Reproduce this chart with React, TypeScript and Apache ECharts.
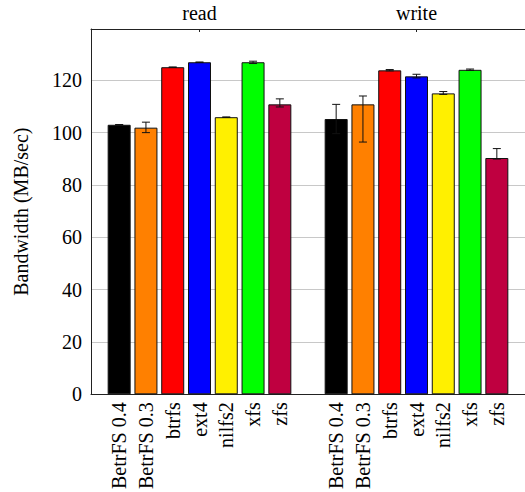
import React, { useEffect, useRef } from "react";
import * as echarts from "echarts";

const groups = ["read", "write"];
const systems = ["BetrFS 0.4", "BetrFS 0.3", "btrfs", "ext4", "nilfs2", "xfs", "zfs"];
const colors = ["#000000", "#ff8000", "#ff0000", "#0000ff", "#fff000", "#00ff00", "#bf0040"];
const readValues = [103.0, 101.9, 125.0, 126.9, 105.9, 126.9, 110.8];
const readLow = [102.9, 100.0, 124.9, 126.8, 105.8, 126.4, 109.8];
const readHigh = [103.1, 104.0, 125.1, 127.0, 106.0, 127.3, 112.9];
const writeValues = [105.2, 110.8, 123.8, 121.5, 115.0, 124.0, 90.3];
const writeLow = [99.6, 96.4, 123.6, 120.9, 114.6, 123.8, 89.9];
const writeHigh = [110.8, 114.0, 124.1, 122.3, 115.7, 124.3, 93.9];
const yTicks = [0, 20, 40, 60, 80, 100, 120];

const FONT = "'Liberation Serif', 'Times New Roman', serif";
const STEP = 0.1234;

export default function App() {
  const ref = useRef<HTMLDivElement>(null);
  useEffect(() => {
    if (!ref.current) return;
    const chart = echarts.init(ref.current, null, { renderer: "svg" });
    const vals = [readValues, writeValues];
    const lows = [readLow, writeLow];
    const highs = [readHigh, writeHigh];
    const positions: number[] = [];
    const names: string[] = [];
    const barData: any[] = [];
    const errData: any[] = [];
    groups.forEach((g, gi) => {
      systems.forEach((s, i) => {
        const x = gi + (i - 3) * STEP;
        positions.push(x);
        names.push(s);
        barData.push({
          value: [x, vals[gi][i]],
          itemStyle: { color: colors[i], borderColor: "#111", borderWidth: 1 },
        });
        errData.push([x, lows[gi][i], highs[gi][i]]);
      });
    });
    const nameAt = (v: number) => {
      let best = 0;
      positions.forEach((p, k) => {
        if (Math.abs(p - v) < Math.abs(positions[best] - v)) best = k;
      });
      return names[best];
    };
    chart.setOption({
      animation: false,
      textStyle: { fontFamily: FONT },
      grid: { left: 91, top: 29, bottom: 97, right: -7, containLabel: false },
      xAxis: [
        {
          type: "value",
          min: -0.5,
          max: 1.5,
          position: "bottom",
          splitLine: { show: false },
          axisLine: { show: true, onZero: false, lineStyle: { color: "#222", width: 1 } },
          axisTick: { show: false },
          axisLabel: {
            customValues: positions,
            rotate: 90,
            margin: 8,
            fontFamily: FONT,
            fontSize: 20,
            color: "#000",
            formatter: (v: number) => nameAt(v),
          },
        },
        {
          type: "value",
          min: -0.5,
          max: 1.5,
          position: "top",
          splitLine: { show: false },
          axisLine: { show: true, onZero: false, lineStyle: { color: "#222", width: 1 } },
          axisTick: { show: true, inside: true, length: 3, customValues: [0, 1], lineStyle: { color: "#222" } },
          axisLabel: {
            customValues: [0, 1],
            margin: 6,
            fontFamily: FONT,
            fontSize: 20,
            color: "#000",
            formatter: (v: number) => groups[Math.round(v)] ?? "",
          },
        },
      ],
      yAxis: {
        type: "value",
        min: 0,
        max: 139.6,
        interval: 20,
        name: "Bandwidth (MB/sec)",
        nameLocation: "middle",
        nameRotate: 90,
        nameGap: 60,
        nameTextStyle: { fontFamily: FONT, fontSize: 20, color: "#000" },
        axisLine: { show: true, onZero: false, lineStyle: { color: "#222", width: 1 } },
        axisTick: { show: false },
        splitLine: { show: true, lineStyle: { color: "#c8c8c8", width: 1 } },
        axisLabel: {
          margin: 9,
          fontFamily: FONT,
          fontSize: 20,
          color: "#000",
          customValues: yTicks,
        },
      },
      series: [
        {
          type: "bar",
          xAxisIndex: 0,
          barWidth: 23,
          data: barData,
          z: 2,
        },
        {
          type: "custom",
          xAxisIndex: 0,
          z: 3,
          data: errData,
          encode: { x: 0, y: [1, 2] },
          renderItem: (params: any, api: any) => {
            const x = api.value(0);
            const lo = api.coord([x, api.value(1)]);
            const hi = api.coord([x, api.value(2)]);
            const hw = 4;
            const style = { stroke: "#111", lineWidth: 1 };
            return {
              type: "group",
              children: [
                { type: "line", shape: { x1: lo[0], y1: lo[1], x2: hi[0], y2: hi[1] }, style },
                { type: "line", shape: { x1: lo[0] - hw, y1: lo[1], x2: lo[0] + hw, y2: lo[1] }, style },
                { type: "line", shape: { x1: hi[0] - hw, y1: hi[1], x2: hi[0] + hw, y2: hi[1] }, style },
              ],
            };
          },
        },
      ],
    });
    return () => chart.dispose();
  }, []);
  return (
    <div
      ref={ref}
      style={{ position: "fixed", left: 0, top: 0, width: 525, height: 492, background: "#fff" }}
    />
  );
}
